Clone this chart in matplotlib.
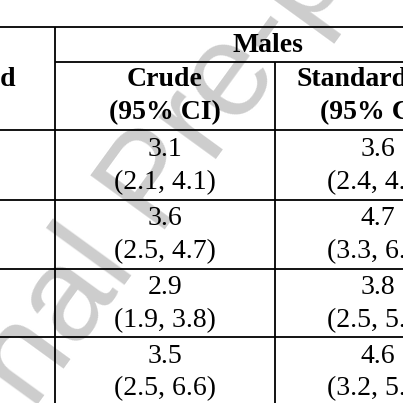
import matplotlib.pyplot as plt

col_header = "Males"
sub_headers = ["Crude\n(95% CI)", "Standardized\n(95% CI)"]
crude = ["3.1", "3.6", "2.9", "3.5"]
crude_ci = ["(2.1, 4.1)", "(2.5, 4.7)", "(1.9, 3.8)", "(2.5, 6.6)"]
std = ["3.6", "4.7", "3.8", "4.6"]
std_ci = ["(2.4, 4.9)", "(3.3, 6.6)", "(2.5, 5.6)", "(3.2, 5.9)"]

fig = plt.figure(figsize=(4.03, 4.03), dpi=100)
ax = fig.add_axes([0, 0, 1, 1])
ax.set_xlim(0, 403)
ax.set_ylim(403, 0)
ax.axis("off")

# watermark
ax.text(155, 185, "Journal Pre-proof", rotation=54, fontsize=96, color="#cdcdcd",
        ha="center", va="center", family="Liberation Sans", zorder=0)

lw = 1.3
ax.hlines(27, 0, 403, color="black", lw=lw)
ax.hlines(62, 55, 403, color="black", lw=lw)
for y in [130, 200, 269, 337]:
    ax.hlines(y, 0, 403, color="black", lw=lw)
ax.vlines(55, 27, 403, color="black", lw=lw)
ax.vlines(275, 62, 403, color="black", lw=lw)

font = dict(family="Liberation Serif", fontsize=20, ha="center", va="center", zorder=2)
ax.text(268, 45, col_header, fontweight="bold", **font)
ax.text(16, 80, "Period", fontweight="bold", **{**font, "ha": "right"})
for x, h in zip([165, 376], sub_headers):
    top, bot = h.split("\n")
    ax.text(x, 80, top, fontweight="bold", **font)
    ax.text(x, 113, bot, fontweight="bold", **font)

for i in range(4):
    y = 150 + i * 68.7
    ax.text(165, y, crude[i], **font)
    ax.text(165, y + 33, crude_ci[i], **font)
    ax.text(378, y, std[i], **font)
    ax.text(378, y + 33, std_ci[i], **font)

fig.savefig("out.png", dpi=100)
